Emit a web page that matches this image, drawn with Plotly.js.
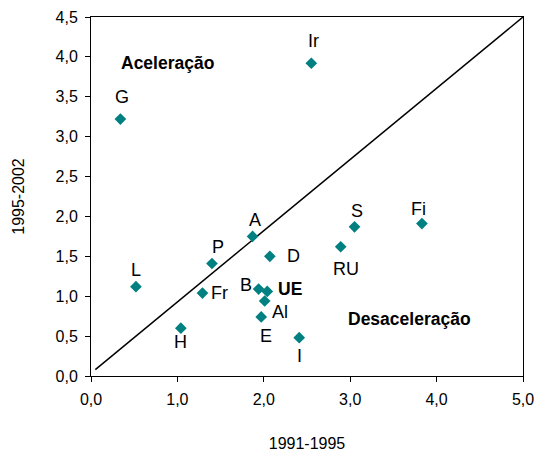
<!DOCTYPE html>
<html>
<head>
<meta charset="utf-8">
<script src="https://cdn.plot.ly/plotly-3.0.1.min.js"></script>
<style>html,body{margin:0;padding:0;background:#fff;}#chart{width:537px;height:452px;}</style>
</head>
<body>
<div id="chart"></div>
<script>
// Data
const countries = ["Ir","G","L","H","Fr","P","A","D","B","UE","Al","E","I","RU","S","Fi"];
const growth9195 = [2.55,0.34,0.52,1.04,1.29,1.40,1.87,2.07,1.94,2.04,2.01,1.97,2.41,2.89,3.05,3.83];
const growth9502 = [3.92,3.22,1.12,0.60,1.04,1.41,1.75,1.50,1.09,1.06,0.94,0.74,0.48,1.62,1.87,1.91];
const diagX = [0.05,5.0];
const diagY = [0.08,4.5];
const xTicks = [0,1,2,3,4,5];
const yTicks = [0,0.5,1,1.5,2,2.5,3,3.5,4,4.5];
const regionLabels = ["Aceleração","Desaceleração"];
const regionX = [0.88,3.69];
const regionY = [3.92,0.72];

// label offsets (px): [dx, dy] screen
const offsets = {
  "Ir":[2,-22],"G":[2,-22],"L":[0,-17],"H":[0,14],"Fr":[17,0],"P":[6,-17],
  "A":[2,-16],"D":[24,0],"B":[-13,-4],"UE":[23,-2],"Al":[15,11],"E":[5,19],
  "I":[0,18],"RU":[5,22],"S":[2,-16],"Fi":[-3,-15]
};

const font = "Liberation Sans, Arial, sans-serif";
const annotations = countries.map((c,i)=>({
  x: growth9195[i], y: growth9502[i], xref:'x', yref:'y',
  text: c==="UE" ? "<b>UE</b>" : c, showarrow:false,
  xshift: offsets[c][0], yshift: -offsets[c][1],
  font:{family:font,size:c==="UE"?17.5:18,color:'#000'}
}));
regionLabels.forEach((t,i)=>annotations.push({
  x: regionX[i], y: regionY[i], xref:'x', yref:'y', text:'<b>'+t+'</b>',
  showarrow:false, font:{family:font,size:17.5,color:'#000'}
}));

const traces = [
  {x: diagX, y: diagY, mode:'lines', line:{color:'#000',width:1.5}, hoverinfo:'skip'},
  {x: growth9195, y: growth9502, mode:'markers', text: countries,
   marker:{symbol:'diamond', size:9, color:'#008080'}}
];

const layout = {
  width:537, height:452,
  margin:{l:91,r:14,t:17,b:76},
  paper_bgcolor:'#fff', plot_bgcolor:'#fff',
  showlegend:false,
  separators:', ',
  font:{family:font,size:16,color:'#000'},
  xaxis:{range:[0,5], tickvals:xTicks, tickformat:'.1f', ticks:'outside', ticklen:5,
    tickcolor:'#000', showline:true, linecolor:'#000', linewidth:1, mirror:true,
    showgrid:false, zeroline:false, fixedrange:true, ticklabelstandoff:4,
    tickfont:{family:font,size:16,color:'#000'},
    title:{text:'1991-1995', font:{family:font,size:16,color:'#000'}, standoff:32}},
  yaxis:{range:[0,4.5], tickvals:yTicks, tickformat:'.1f', ticks:'outside', ticklen:5,
    tickcolor:'#000', showline:true, linecolor:'#000', linewidth:1, mirror:true,
    showgrid:false, zeroline:false, fixedrange:true, ticklabelstandoff:4,
    tickfont:{family:font,size:16,color:'#000'},
    title:{text:'1995-2002', font:{family:font,size:16,color:'#000'}, standoff:26}},
  annotations: annotations
};
Plotly.newPlot('chart', traces, layout, {displayModeBar:false, staticPlot:true});
</script>
</body>
</html>
